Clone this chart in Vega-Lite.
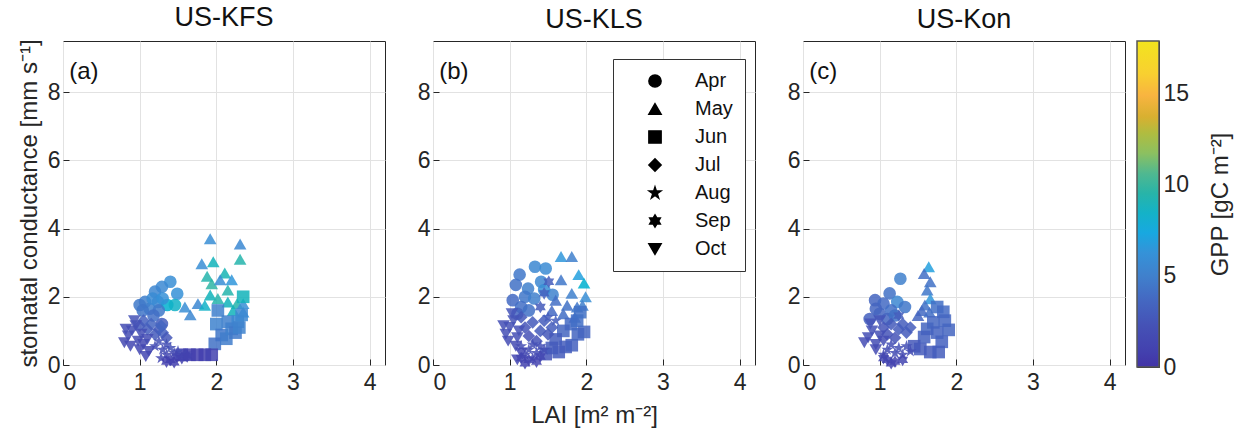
{
  "$schema": "https://vega.github.io/schema/vega-lite/v6.json",
  "padding": {"left": 16, "right": 4, "top": 3, "bottom": 4},
  "spacing": 9,
  "data": {"values": [
    {"site":"US-KFS","month":"Apr","LAI":1.40,"gs":2.44,"GPP":6.0},
    {"site":"US-KFS","month":"Apr","LAI":1.29,"gs":2.29,"GPP":5.6},
    {"site":"US-KFS","month":"Apr","LAI":1.49,"gs":2.09,"GPP":6.2},
    {"site":"US-KFS","month":"Apr","LAI":1.20,"gs":2.15,"GPP":5.4},
    {"site":"US-KFS","month":"Apr","LAI":1.07,"gs":1.85,"GPP":5.0},
    {"site":"US-KFS","month":"Apr","LAI":1.00,"gs":1.76,"GPP":4.6},
    {"site":"US-KFS","month":"Apr","LAI":1.13,"gs":1.65,"GPP":5.0},
    {"site":"US-KFS","month":"Apr","LAI":1.24,"gs":1.85,"GPP":5.5},
    {"site":"US-KFS","month":"Apr","LAI":1.36,"gs":1.76,"GPP":8.2},
    {"site":"US-KFS","month":"Apr","LAI":1.46,"gs":1.76,"GPP":8.6},
    {"site":"US-KFS","month":"Apr","LAI":1.17,"gs":1.95,"GPP":5.8},
    {"site":"US-KFS","month":"Apr","LAI":1.30,"gs":1.95,"GPP":6.2},
    {"site":"US-KFS","month":"Apr","LAI":1.04,"gs":1.60,"GPP":4.4},
    {"site":"US-KFS","month":"Apr","LAI":1.25,"gs":1.60,"GPP":4.6},
    {"site":"US-KFS","month":"Apr","LAI":1.29,"gs":1.20,"GPP":3.0},
    {"site":"US-KFS","month":"Apr","LAI":1.18,"gs":1.45,"GPP":4.0},
    {"site":"US-KFS","month":"May","LAI":1.92,"gs":3.70,"GPP":6.0},
    {"site":"US-KFS","month":"May","LAI":2.31,"gs":3.55,"GPP":5.6},
    {"site":"US-KFS","month":"May","LAI":2.31,"gs":3.10,"GPP":9.5},
    {"site":"US-KFS","month":"May","LAI":1.81,"gs":2.97,"GPP":6.0},
    {"site":"US-KFS","month":"May","LAI":1.96,"gs":3.03,"GPP":9.0},
    {"site":"US-KFS","month":"May","LAI":1.88,"gs":2.60,"GPP":9.5},
    {"site":"US-KFS","month":"May","LAI":2.11,"gs":2.70,"GPP":9.2},
    {"site":"US-KFS","month":"May","LAI":2.20,"gs":2.50,"GPP":6.5},
    {"site":"US-KFS","month":"May","LAI":1.94,"gs":2.38,"GPP":9.8},
    {"site":"US-KFS","month":"May","LAI":2.15,"gs":2.20,"GPP":9.5},
    {"site":"US-KFS","month":"May","LAI":1.92,"gs":2.05,"GPP":9.0},
    {"site":"US-KFS","month":"May","LAI":2.02,"gs":1.95,"GPP":9.5},
    {"site":"US-KFS","month":"May","LAI":2.15,"gs":1.85,"GPP":9.0},
    {"site":"US-KFS","month":"May","LAI":2.27,"gs":1.80,"GPP":9.5},
    {"site":"US-KFS","month":"May","LAI":2.35,"gs":1.80,"GPP":6.0},
    {"site":"US-KFS","month":"May","LAI":1.59,"gs":1.70,"GPP":6.0},
    {"site":"US-KFS","month":"May","LAI":1.76,"gs":1.80,"GPP":5.5},
    {"site":"US-KFS","month":"May","LAI":1.66,"gs":1.47,"GPP":5.5},
    {"site":"US-KFS","month":"May","LAI":2.22,"gs":1.60,"GPP":9.0},
    {"site":"US-KFS","month":"May","LAI":2.35,"gs":1.55,"GPP":6.2},
    {"site":"US-KFS","month":"May","LAI":2.05,"gs":2.50,"GPP":6.0},
    {"site":"US-KFS","month":"May","LAI":1.85,"gs":1.75,"GPP":8.5},
    {"site":"US-KFS","month":"Jun","LAI":2.35,"gs":2.00,"GPP":9.0},
    {"site":"US-KFS","month":"Jun","LAI":2.02,"gs":1.60,"GPP":5.0},
    {"site":"US-KFS","month":"Jun","LAI":2.00,"gs":1.20,"GPP":5.2},
    {"site":"US-KFS","month":"Jun","LAI":2.15,"gs":1.27,"GPP":5.0},
    {"site":"US-KFS","month":"Jun","LAI":2.28,"gs":1.27,"GPP":5.5},
    {"site":"US-KFS","month":"Jun","LAI":2.07,"gs":0.88,"GPP":4.5},
    {"site":"US-KFS","month":"Jun","LAI":1.98,"gs":0.62,"GPP":4.2},
    {"site":"US-KFS","month":"Jun","LAI":2.13,"gs":0.77,"GPP":4.8},
    {"site":"US-KFS","month":"Jun","LAI":2.20,"gs":1.06,"GPP":5.0},
    {"site":"US-KFS","month":"Jun","LAI":2.33,"gs":1.47,"GPP":5.5},
    {"site":"US-KFS","month":"Jun","LAI":2.25,"gs":0.95,"GPP":4.6},
    {"site":"US-KFS","month":"Jun","LAI":2.30,"gs":1.10,"GPP":5.2},
    {"site":"US-KFS","month":"Jun","LAI":1.55,"gs":0.30,"GPP":0.8},
    {"site":"US-KFS","month":"Jun","LAI":1.65,"gs":0.30,"GPP":0.8},
    {"site":"US-KFS","month":"Jun","LAI":1.75,"gs":0.30,"GPP":0.7},
    {"site":"US-KFS","month":"Jun","LAI":1.85,"gs":0.30,"GPP":0.8},
    {"site":"US-KFS","month":"Jun","LAI":1.94,"gs":0.30,"GPP":1.0},
    {"site":"US-KFS","month":"Jul","LAI":1.05,"gs":1.30,"GPP":3.2},
    {"site":"US-KFS","month":"Jul","LAI":1.15,"gs":1.20,"GPP":3.5},
    {"site":"US-KFS","month":"Jul","LAI":1.25,"gs":1.05,"GPP":3.0},
    {"site":"US-KFS","month":"Jul","LAI":1.10,"gs":1.05,"GPP":3.0},
    {"site":"US-KFS","month":"Jul","LAI":1.20,"gs":0.90,"GPP":2.8},
    {"site":"US-KFS","month":"Jul","LAI":1.30,"gs":0.95,"GPP":3.2},
    {"site":"US-KFS","month":"Jul","LAI":1.35,"gs":0.80,"GPP":2.6},
    {"site":"US-KFS","month":"Jul","LAI":1.00,"gs":1.15,"GPP":2.8},
    {"site":"US-KFS","month":"Jul","LAI":1.28,"gs":1.15,"GPP":3.6},
    {"site":"US-KFS","month":"Aug","LAI":1.25,"gs":0.70,"GPP":2.2},
    {"site":"US-KFS","month":"Aug","LAI":1.35,"gs":0.60,"GPP":2.0},
    {"site":"US-KFS","month":"Aug","LAI":1.30,"gs":0.45,"GPP":1.8},
    {"site":"US-KFS","month":"Aug","LAI":1.40,"gs":0.50,"GPP":2.2},
    {"site":"US-KFS","month":"Aug","LAI":1.20,"gs":0.55,"GPP":1.8},
    {"site":"US-KFS","month":"Aug","LAI":1.45,"gs":0.35,"GPP":1.6},
    {"site":"US-KFS","month":"Aug","LAI":1.35,"gs":0.30,"GPP":1.5},
    {"site":"US-KFS","month":"Aug","LAI":1.50,"gs":0.40,"GPP":1.8},
    {"site":"US-KFS","month":"Aug","LAI":1.28,"gs":0.20,"GPP":1.4},
    {"site":"US-KFS","month":"Sep","LAI":1.40,"gs":0.15,"GPP":1.0},
    {"site":"US-KFS","month":"Sep","LAI":1.48,"gs":0.25,"GPP":1.2},
    {"site":"US-KFS","month":"Sep","LAI":1.55,"gs":0.20,"GPP":1.0},
    {"site":"US-KFS","month":"Sep","LAI":1.35,"gs":0.10,"GPP":0.8},
    {"site":"US-KFS","month":"Sep","LAI":1.60,"gs":0.30,"GPP":1.2},
    {"site":"US-KFS","month":"Sep","LAI":1.45,"gs":0.08,"GPP":0.8},
    {"site":"US-KFS","month":"Sep","LAI":1.62,"gs":0.25,"GPP":1.0},
    {"site":"US-KFS","month":"Oct","LAI":0.80,"gs":0.65,"GPP":1.5},
    {"site":"US-KFS","month":"Oct","LAI":0.85,"gs":0.85,"GPP":1.8},
    {"site":"US-KFS","month":"Oct","LAI":0.90,"gs":1.00,"GPP":2.0},
    {"site":"US-KFS","month":"Oct","LAI":0.95,"gs":1.15,"GPP":2.2},
    {"site":"US-KFS","month":"Oct","LAI":0.88,"gs":0.55,"GPP":1.4},
    {"site":"US-KFS","month":"Oct","LAI":0.98,"gs":0.70,"GPP":1.6},
    {"site":"US-KFS","month":"Oct","LAI":1.02,"gs":0.90,"GPP":2.0},
    {"site":"US-KFS","month":"Oct","LAI":0.93,"gs":1.30,"GPP":2.3},
    {"site":"US-KFS","month":"Oct","LAI":1.05,"gs":0.60,"GPP":1.5},
    {"site":"US-KFS","month":"Oct","LAI":1.10,"gs":0.75,"GPP":1.8},
    {"site":"US-KFS","month":"Oct","LAI":0.82,"gs":1.05,"GPP":1.8},
    {"site":"US-KFS","month":"Oct","LAI":1.00,"gs":0.45,"GPP":1.3},
    {"site":"US-KFS","month":"Oct","LAI":1.12,"gs":0.40,"GPP":1.5},
    {"site":"US-KFS","month":"Oct","LAI":1.08,"gs":0.25,"GPP":1.3},

    {"site":"US-KLS","month":"Apr","LAI":1.33,"gs":2.88,"GPP":5.5},
    {"site":"US-KLS","month":"Apr","LAI":1.47,"gs":2.83,"GPP":5.8},
    {"site":"US-KLS","month":"Apr","LAI":1.13,"gs":2.65,"GPP":4.5},
    {"site":"US-KLS","month":"Apr","LAI":1.08,"gs":2.35,"GPP":4.2},
    {"site":"US-KLS","month":"Apr","LAI":1.41,"gs":2.44,"GPP":5.5},
    {"site":"US-KLS","month":"Apr","LAI":1.24,"gs":2.24,"GPP":5.0},
    {"site":"US-KLS","month":"Apr","LAI":1.04,"gs":1.90,"GPP":3.8},
    {"site":"US-KLS","month":"Apr","LAI":1.56,"gs":2.06,"GPP":5.2},
    {"site":"US-KLS","month":"Apr","LAI":1.20,"gs":2.00,"GPP":4.5},
    {"site":"US-KLS","month":"Apr","LAI":1.32,"gs":1.95,"GPP":5.0},
    {"site":"US-KLS","month":"Apr","LAI":1.15,"gs":1.70,"GPP":4.0},
    {"site":"US-KLS","month":"Apr","LAI":1.45,"gs":2.20,"GPP":6.0},
    {"site":"US-KLS","month":"Apr","LAI":1.10,"gs":1.50,"GPP":3.5},
    {"site":"US-KLS","month":"Apr","LAI":1.25,"gs":1.60,"GPP":4.2},
    {"site":"US-KLS","month":"May","LAI":1.67,"gs":3.18,"GPP":6.5},
    {"site":"US-KLS","month":"May","LAI":1.81,"gs":3.18,"GPP":5.0},
    {"site":"US-KLS","month":"May","LAI":1.67,"gs":2.50,"GPP":4.5},
    {"site":"US-KLS","month":"May","LAI":1.90,"gs":2.65,"GPP":7.0},
    {"site":"US-KLS","month":"May","LAI":1.97,"gs":2.40,"GPP":8.2},
    {"site":"US-KLS","month":"May","LAI":1.81,"gs":2.10,"GPP":5.0},
    {"site":"US-KLS","month":"May","LAI":1.99,"gs":2.00,"GPP":6.0},
    {"site":"US-KLS","month":"May","LAI":1.60,"gs":1.90,"GPP":4.0},
    {"site":"US-KLS","month":"May","LAI":1.75,"gs":1.75,"GPP":4.2},
    {"site":"US-KLS","month":"May","LAI":1.88,"gs":1.70,"GPP":4.5},
    {"site":"US-KLS","month":"May","LAI":1.70,"gs":1.50,"GPP":4.0},
    {"site":"US-KLS","month":"May","LAI":1.55,"gs":1.60,"GPP":3.8},
    {"site":"US-KLS","month":"May","LAI":1.85,"gs":1.40,"GPP":4.0},
    {"site":"US-KLS","month":"May","LAI":1.95,"gs":1.75,"GPP":5.0},
    {"site":"US-KLS","month":"Jun","LAI":1.97,"gs":0.97,"GPP":3.5},
    {"site":"US-KLS","month":"Jun","LAI":1.73,"gs":0.53,"GPP":3.0},
    {"site":"US-KLS","month":"Jun","LAI":1.81,"gs":0.58,"GPP":3.2},
    {"site":"US-KLS","month":"Jun","LAI":1.64,"gs":0.38,"GPP":2.8},
    {"site":"US-KLS","month":"Jun","LAI":1.47,"gs":0.32,"GPP":2.5},
    {"site":"US-KLS","month":"Jun","LAI":1.89,"gs":0.90,"GPP":3.5},
    {"site":"US-KLS","month":"Jun","LAI":1.80,"gs":1.20,"GPP":3.8},
    {"site":"US-KLS","month":"Jun","LAI":1.70,"gs":1.00,"GPP":3.5},
    {"site":"US-KLS","month":"Jun","LAI":1.60,"gs":0.75,"GPP":3.0},
    {"site":"US-KLS","month":"Jun","LAI":1.88,"gs":1.30,"GPP":4.0},
    {"site":"US-KLS","month":"Jun","LAI":1.55,"gs":0.50,"GPP":2.8},
    {"site":"US-KLS","month":"Jun","LAI":1.92,"gs":1.55,"GPP":4.2},
    {"site":"US-KLS","month":"Jul","LAI":1.20,"gs":1.10,"GPP":2.5},
    {"site":"US-KLS","month":"Jul","LAI":1.30,"gs":1.25,"GPP":2.8},
    {"site":"US-KLS","month":"Jul","LAI":1.40,"gs":1.00,"GPP":2.8},
    {"site":"US-KLS","month":"Jul","LAI":1.25,"gs":0.85,"GPP":2.2},
    {"site":"US-KLS","month":"Jul","LAI":1.35,"gs":0.70,"GPP":2.3},
    {"site":"US-KLS","month":"Jul","LAI":1.50,"gs":0.90,"GPP":2.6},
    {"site":"US-KLS","month":"Jul","LAI":1.15,"gs":1.40,"GPP":2.6},
    {"site":"US-KLS","month":"Jul","LAI":1.45,"gs":1.30,"GPP":3.0},
    {"site":"US-KLS","month":"Jul","LAI":1.55,"gs":1.10,"GPP":3.0},
    {"site":"US-KLS","month":"Aug","LAI":1.25,"gs":0.45,"GPP":1.8},
    {"site":"US-KLS","month":"Aug","LAI":1.35,"gs":0.35,"GPP":1.8},
    {"site":"US-KLS","month":"Aug","LAI":1.20,"gs":0.30,"GPP":1.6},
    {"site":"US-KLS","month":"Aug","LAI":1.30,"gs":0.60,"GPP":2.0},
    {"site":"US-KLS","month":"Aug","LAI":1.40,"gs":0.55,"GPP":2.0},
    {"site":"US-KLS","month":"Aug","LAI":1.15,"gs":0.55,"GPP":1.8},
    {"site":"US-KLS","month":"Aug","LAI":1.30,"gs":0.20,"GPP":1.5},
    {"site":"US-KLS","month":"Aug","LAI":1.45,"gs":0.45,"GPP":2.0},
    {"site":"US-KLS","month":"Aug","LAI":1.50,"gs":1.40,"GPP":3.0},
    {"site":"US-KLS","month":"Aug","LAI":1.60,"gs":1.30,"GPP":3.0},
    {"site":"US-KLS","month":"Sep","LAI":1.51,"gs":2.44,"GPP":3.0},
    {"site":"US-KLS","month":"Sep","LAI":1.45,"gs":2.10,"GPP":3.2},
    {"site":"US-KLS","month":"Sep","LAI":1.40,"gs":1.70,"GPP":2.8},
    {"site":"US-KLS","month":"Sep","LAI":1.25,"gs":0.15,"GPP":1.2},
    {"site":"US-KLS","month":"Sep","LAI":1.35,"gs":0.10,"GPP":1.0},
    {"site":"US-KLS","month":"Sep","LAI":1.15,"gs":0.20,"GPP":1.2},
    {"site":"US-KLS","month":"Sep","LAI":1.40,"gs":0.25,"GPP":1.3},
    {"site":"US-KLS","month":"Sep","LAI":1.20,"gs":0.05,"GPP":1.0},
    {"site":"US-KLS","month":"Oct","LAI":0.95,"gs":0.90,"GPP":2.0},
    {"site":"US-KLS","month":"Oct","LAI":1.00,"gs":1.10,"GPP":2.2},
    {"site":"US-KLS","month":"Oct","LAI":1.05,"gs":1.30,"GPP":2.4},
    {"site":"US-KLS","month":"Oct","LAI":0.98,"gs":0.70,"GPP":1.8},
    {"site":"US-KLS","month":"Oct","LAI":1.10,"gs":0.80,"GPP":2.0},
    {"site":"US-KLS","month":"Oct","LAI":1.03,"gs":1.50,"GPP":2.5},
    {"site":"US-KLS","month":"Oct","LAI":1.12,"gs":1.00,"GPP":2.2},
    {"site":"US-KLS","month":"Oct","LAI":1.08,"gs":0.55,"GPP":1.6},
    {"site":"US-KLS","month":"Oct","LAI":0.92,"gs":1.15,"GPP":2.0},
    {"site":"US-KLS","month":"Oct","LAI":1.15,"gs":0.35,"GPP":1.4},
    {"site":"US-KLS","month":"Oct","LAI":1.10,"gs":0.15,"GPP":1.2},

    {"site":"US-Kon","month":"Apr","LAI":1.27,"gs":2.53,"GPP":5.0},
    {"site":"US-Kon","month":"Apr","LAI":1.13,"gs":2.10,"GPP":4.2},
    {"site":"US-Kon","month":"Apr","LAI":0.94,"gs":1.90,"GPP":3.5},
    {"site":"US-Kon","month":"Apr","LAI":1.23,"gs":1.85,"GPP":5.5},
    {"site":"US-Kon","month":"Apr","LAI":1.33,"gs":1.70,"GPP":4.5},
    {"site":"US-Kon","month":"Apr","LAI":1.00,"gs":1.50,"GPP":3.5},
    {"site":"US-Kon","month":"Apr","LAI":0.87,"gs":1.35,"GPP":3.2},
    {"site":"US-Kon","month":"Apr","LAI":1.05,"gs":1.80,"GPP":3.8},
    {"site":"US-Kon","month":"Apr","LAI":1.15,"gs":1.60,"GPP":4.0},
    {"site":"US-Kon","month":"Apr","LAI":1.10,"gs":1.35,"GPP":3.5},
    {"site":"US-Kon","month":"Apr","LAI":0.95,"gs":1.65,"GPP":3.5},
    {"site":"US-Kon","month":"Apr","LAI":1.20,"gs":1.45,"GPP":4.2},
    {"site":"US-Kon","month":"May","LAI":1.64,"gs":2.88,"GPP":7.0},
    {"site":"US-Kon","month":"May","LAI":1.58,"gs":2.68,"GPP":4.0},
    {"site":"US-Kon","month":"May","LAI":1.66,"gs":2.44,"GPP":4.2},
    {"site":"US-Kon","month":"May","LAI":1.62,"gs":2.20,"GPP":4.5},
    {"site":"US-Kon","month":"May","LAI":1.66,"gs":1.94,"GPP":6.5},
    {"site":"US-Kon","month":"May","LAI":1.59,"gs":1.76,"GPP":4.2},
    {"site":"US-Kon","month":"May","LAI":1.55,"gs":1.60,"GPP":3.8},
    {"site":"US-Kon","month":"May","LAI":1.50,"gs":1.45,"GPP":3.5},
    {"site":"US-Kon","month":"May","LAI":1.65,"gs":1.55,"GPP":4.0},
    {"site":"US-Kon","month":"Jun","LAI":1.75,"gs":1.70,"GPP":4.0},
    {"site":"US-Kon","month":"Jun","LAI":1.83,"gs":1.56,"GPP":3.8},
    {"site":"US-Kon","month":"Jun","LAI":1.90,"gs":1.03,"GPP":3.5},
    {"site":"US-Kon","month":"Jun","LAI":1.81,"gs":0.68,"GPP":3.2},
    {"site":"US-Kon","month":"Jun","LAI":1.66,"gs":0.38,"GPP":2.8},
    {"site":"US-Kon","month":"Jun","LAI":1.77,"gs":0.38,"GPP":3.0},
    {"site":"US-Kon","month":"Jun","LAI":1.53,"gs":0.47,"GPP":2.8},
    {"site":"US-Kon","month":"Jun","LAI":1.62,"gs":1.06,"GPP":3.5},
    {"site":"US-Kon","month":"Jun","LAI":1.58,"gs":0.82,"GPP":3.2},
    {"site":"US-Kon","month":"Jun","LAI":1.70,"gs":1.25,"GPP":3.6},
    {"site":"US-Kon","month":"Jun","LAI":1.75,"gs":0.95,"GPP":3.4},
    {"site":"US-Kon","month":"Jun","LAI":1.85,"gs":1.30,"GPP":3.6},
    {"site":"US-Kon","month":"Jun","LAI":1.45,"gs":0.55,"GPP":2.6},
    {"site":"US-Kon","month":"Jul","LAI":1.05,"gs":1.10,"GPP":2.5},
    {"site":"US-Kon","month":"Jul","LAI":1.15,"gs":1.20,"GPP":2.8},
    {"site":"US-Kon","month":"Jul","LAI":1.25,"gs":1.05,"GPP":2.8},
    {"site":"US-Kon","month":"Jul","LAI":1.10,"gs":0.90,"GPP":2.4},
    {"site":"US-Kon","month":"Jul","LAI":1.20,"gs":0.80,"GPP":2.4},
    {"site":"US-Kon","month":"Jul","LAI":1.35,"gs":0.95,"GPP":2.8},
    {"site":"US-Kon","month":"Jul","LAI":1.30,"gs":1.20,"GPP":3.0},
    {"site":"US-Kon","month":"Jul","LAI":1.40,"gs":1.10,"GPP":3.0},
    {"site":"US-Kon","month":"Aug","LAI":1.10,"gs":0.45,"GPP":1.8},
    {"site":"US-Kon","month":"Aug","LAI":1.20,"gs":0.35,"GPP":1.8},
    {"site":"US-Kon","month":"Aug","LAI":1.15,"gs":0.60,"GPP":2.0},
    {"site":"US-Kon","month":"Aug","LAI":1.25,"gs":0.50,"GPP":2.0},
    {"site":"US-Kon","month":"Aug","LAI":1.30,"gs":0.30,"GPP":1.6},
    {"site":"US-Kon","month":"Aug","LAI":1.05,"gs":0.30,"GPP":1.5},
    {"site":"US-Kon","month":"Aug","LAI":1.35,"gs":0.55,"GPP":2.0},
    {"site":"US-Kon","month":"Aug","LAI":1.40,"gs":0.40,"GPP":1.8},
    {"site":"US-Kon","month":"Sep","LAI":1.10,"gs":0.15,"GPP":1.2},
    {"site":"US-Kon","month":"Sep","LAI":1.20,"gs":0.10,"GPP":1.0},
    {"site":"US-Kon","month":"Sep","LAI":1.15,"gs":0.05,"GPP":1.0},
    {"site":"US-Kon","month":"Sep","LAI":1.30,"gs":0.15,"GPP":1.2},
    {"site":"US-Kon","month":"Sep","LAI":1.05,"gs":0.20,"GPP":1.2},
    {"site":"US-Kon","month":"Sep","LAI":1.25,"gs":1.45,"GPP":3.0},
    {"site":"US-Kon","month":"Oct","LAI":0.85,"gs":0.80,"GPP":2.0},
    {"site":"US-Kon","month":"Oct","LAI":0.90,"gs":1.00,"GPP":2.2},
    {"site":"US-Kon","month":"Oct","LAI":0.80,"gs":0.65,"GPP":1.8},
    {"site":"US-Kon","month":"Oct","LAI":0.95,"gs":0.60,"GPP":1.8},
    {"site":"US-Kon","month":"Oct","LAI":0.88,"gs":1.20,"GPP":2.4},
    {"site":"US-Kon","month":"Oct","LAI":1.00,"gs":0.85,"GPP":2.0},
    {"site":"US-Kon","month":"Oct","LAI":0.95,"gs":0.45,"GPP":1.6},
    {"site":"US-Kon","month":"Oct","LAI":1.05,"gs":0.70,"GPP":1.8},
    {"site":"US-Kon","month":"Oct","LAI":1.00,"gs":1.30,"GPP":2.5}
  ]},
  "hconcat": [
    {
      "spacing": 30,
      "resolve": {"legend": {"shape": "independent"}},
      "hconcat": [
        {
          "width": 322, "height": 324,
          "title": "US-KFS",
          "layer": [
            {
              "transform": [{"filter": "datum.site === 'US-KFS'"}],
              "mark": {"type": "point", "filled": true, "size": 160, "opacity": 0.85},
              "encoding": {
                "x": {"field": "LAI", "type": "quantitative", "scale": {"domain": [0, 4.2], "nice": false}, "axis": {"values": [0,1,2,3,4], "format": "d", "title": null, "labelPadding": 12}},
                "y": {"field": "gs", "type": "quantitative", "scale": {"domain": [0, 9.5], "nice": false}, "axis": {"values": [0,2,4,6,8], "format": "d", "title": "stomatal conductance [mm s⁻¹]"}},
                "shape": {"field": "month", "type": "nominal", "legend": null,
                  "scale": {"domain": ["Apr","May","Jun","Jul","Aug","Sep","Oct"], "range": ["circle","triangle-up","square","diamond","M0,-1L0.225,-0.309L0.951,-0.309L0.363,0.118L0.588,0.809L0,0.382L-0.588,0.809L-0.363,0.118L-0.951,-0.309L-0.225,-0.309Z","M0,-1L0.289,-0.5L0.866,-0.5L0.577,0L0.866,0.5L0.289,0.5L0,1L-0.289,0.5L-0.866,0.5L-0.577,0L-0.866,-0.5L-0.289,-0.5Z","triangle-down"]}},
                "color": {"field": "GPP", "type": "quantitative", "legend": null,
                  "scale": {"domain": [0,0.8,2.3,3.7,5,6.3,7.4,8.5,9.6,10.7,11.8,12.9,13.8,15,16.2,18], "range": ["#4233a6","#4340ae","#4552b6","#4468c2","#4080cc","#3592d8","#18a8e0","#14b2c8","#28b4a8","#50b890","#8cc060","#b0bc40","#d8b030","#f8b440","#f8d030","#f2e41e"]}}
              }
            },
            {
              "data": {"values": [{}]},
              "mark": {"type": "text", "text": "(a)", "align": "left", "baseline": "middle", "fontSize": 24, "color": "#111"},
              "encoding": {"x": {"datum": 0.08, "type": "quantitative"}, "y": {"datum": 8.6, "type": "quantitative"}}
            }
          ]
        },
        {
          "width": 322, "height": 324,
          "title": "US-KLS",
          "layer": [
            {
              "transform": [{"filter": "datum.site === 'US-KLS'"}],
              "mark": {"type": "point", "filled": true, "size": 160, "opacity": 0.85},
              "encoding": {
                "x": {"field": "LAI", "type": "quantitative", "scale": {"domain": [0, 4.2], "nice": false}, "axis": {"values": [0,1,2,3,4], "format": "d", "title": "LAI [m² m⁻²]", "labelPadding": 12, "titlePadding": 9}},
                "y": {"field": "gs", "type": "quantitative", "scale": {"domain": [0, 9.5], "nice": false}, "axis": {"values": [0,2,4,6,8], "format": "d", "title": null}},
                "shape": {"field": "month", "type": "nominal",
                  "scale": {"domain": ["Apr","May","Jun","Jul","Aug","Sep","Oct"], "range": ["circle","triangle-up","square","diamond","M0,-1L0.225,-0.309L0.951,-0.309L0.363,0.118L0.588,0.809L0,0.382L-0.588,0.809L-0.363,0.118L-0.951,-0.309L-0.225,-0.309Z","M0,-1L0.289,-0.5L0.866,-0.5L0.577,0L0.866,0.5L0.289,0.5L0,1L-0.289,0.5L-0.866,0.5L-0.577,0L-0.866,-0.5L-0.289,-0.5Z","triangle-down"]},
                  "legend": {"title": null, "orient": "none", "legendX": 180, "legendY": 18, "padding": 12, "symbolOffset": 20, "labelOffset": 30, "rowPadding": 8, "strokeColor": "#333333", "fillColor": "white", "symbolSize": 150, "symbolFillColor": "black", "symbolStrokeColor": "black", "symbolOpacity": 1, "labelFontSize": 20, "labelColor": "#111"}},
                "color": {"field": "GPP", "type": "quantitative", "legend": null,
                  "scale": {"domain": [0,0.8,2.3,3.7,5,6.3,7.4,8.5,9.6,10.7,11.8,12.9,13.8,15,16.2,18], "range": ["#4233a6","#4340ae","#4552b6","#4468c2","#4080cc","#3592d8","#18a8e0","#14b2c8","#28b4a8","#50b890","#8cc060","#b0bc40","#d8b030","#f8b440","#f8d030","#f2e41e"]}}
              }
            },
            {
              "data": {"values": [{}]},
              "mark": {"type": "text", "text": "(b)", "align": "left", "baseline": "middle", "fontSize": 24, "color": "#111"},
              "encoding": {"x": {"datum": 0.08, "type": "quantitative"}, "y": {"datum": 8.6, "type": "quantitative"}}
            }
          ]
        },
        {
          "width": 322, "height": 324,
          "title": "US-Kon",
          "layer": [
            {
              "transform": [{"filter": "datum.site === 'US-Kon'"}],
              "mark": {"type": "point", "filled": true, "size": 160, "opacity": 0.85},
              "encoding": {
                "x": {"field": "LAI", "type": "quantitative", "scale": {"domain": [0, 4.2], "nice": false}, "axis": {"values": [0,1,2,3,4], "format": "d", "title": null, "labelPadding": 12}},
                "y": {"field": "gs", "type": "quantitative", "scale": {"domain": [0, 9.5], "nice": false}, "axis": {"values": [0,2,4,6,8], "format": "d", "title": null}},
                "shape": {"field": "month", "type": "nominal", "legend": null,
                  "scale": {"domain": ["Apr","May","Jun","Jul","Aug","Sep","Oct"], "range": ["circle","triangle-up","square","diamond","M0,-1L0.225,-0.309L0.951,-0.309L0.363,0.118L0.588,0.809L0,0.382L-0.588,0.809L-0.363,0.118L-0.951,-0.309L-0.225,-0.309Z","M0,-1L0.289,-0.5L0.866,-0.5L0.577,0L0.866,0.5L0.289,0.5L0,1L-0.289,0.5L-0.866,0.5L-0.577,0L-0.866,-0.5L-0.289,-0.5Z","triangle-down"]}},
                "color": {"field": "GPP", "type": "quantitative", "legend": null,
                  "scale": {"domain": [0,0.8,2.3,3.7,5,6.3,7.4,8.5,9.6,10.7,11.8,12.9,13.8,15,16.2,18], "range": ["#4233a6","#4340ae","#4552b6","#4468c2","#4080cc","#3592d8","#18a8e0","#14b2c8","#28b4a8","#50b890","#8cc060","#b0bc40","#d8b030","#f8b440","#f8d030","#f2e41e"]}}
              }
            },
            {
              "data": {"values": [{}]},
              "mark": {"type": "text", "text": "(c)", "align": "left", "baseline": "middle", "fontSize": 24, "color": "#111"},
              "encoding": {"x": {"datum": 0.08, "type": "quantitative"}, "y": {"datum": 8.6, "type": "quantitative"}}
            }
          ]
        }
      ]
    },
    {
      "width": 22, "height": 326,
      "data": {"values": [{}]},
      "mark": {"type": "rect", "stroke": "#555555", "strokeWidth": 1.5,
        "fill": {"gradient": "linear", "x1": 0, "y1": 1, "x2": 0, "y2": 0, "stops": [
          {"offset": 0, "color": "#4233a6"}, {"offset": 0.044, "color": "#4340ae"}, {"offset": 0.128, "color": "#4552b6"},
          {"offset": 0.206, "color": "#4468c2"}, {"offset": 0.278, "color": "#4080cc"}, {"offset": 0.35, "color": "#3592d8"},
          {"offset": 0.411, "color": "#18a8e0"}, {"offset": 0.472, "color": "#14b2c8"}, {"offset": 0.533, "color": "#28b4a8"},
          {"offset": 0.594, "color": "#50b890"}, {"offset": 0.656, "color": "#8cc060"}, {"offset": 0.717, "color": "#b0bc40"},
          {"offset": 0.767, "color": "#d8b030"}, {"offset": 0.833, "color": "#f8b440"}, {"offset": 0.9, "color": "#f8d030"},
          {"offset": 1, "color": "#f2e41e"}]}},
      "encoding": {
        "y": {"datum": 0, "type": "quantitative", "scale": {"domain": [0, 17.9], "nice": false},
          "axis": {"orient": "right", "values": [0,5,10,15], "format": "d", "grid": false, "title": "GPP [gC m⁻²]", "titleAngle": 270, "titleBaseline": "top", "tickSize": -5, "labelPadding": 9, "titlePadding": 20}},
        "y2": {"datum": 17.9}
      }
    }
  ],
  "config": {
    "font": "Liberation Sans",
    "view": {"stroke": "#262626", "strokeWidth": 1},
    "title": {"fontSize": 27, "fontWeight": "normal", "color": "#111", "offset": 7},
    "axis": {"domain": false, "labelFontSize": 23, "titleFontSize": 24, "titleFontWeight": "normal", "labelColor": "#262626", "titleColor": "#262626", "tickColor": "#262626", "tickSize": -6, "labelPadding": 9, "gridColor": "#e2e2e2", "gridOpacity": 1, "titlePadding": 6}
  }
}
